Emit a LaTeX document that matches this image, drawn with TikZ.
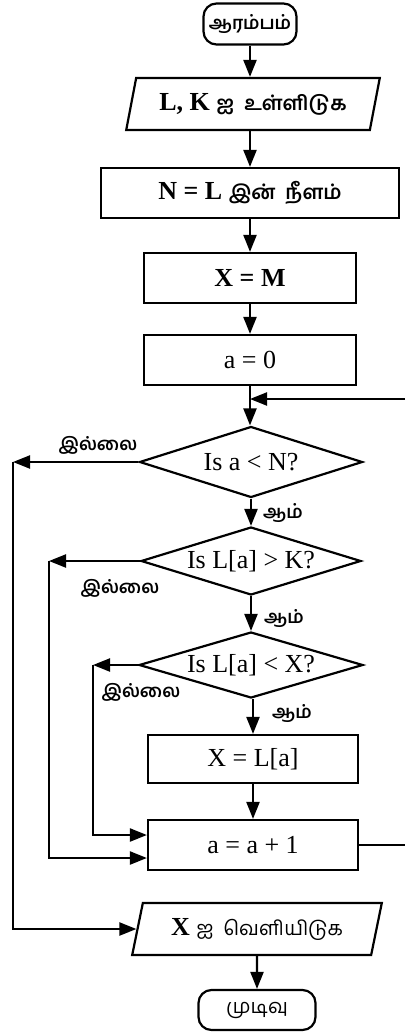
\documentclass[tikz,border=0pt]{standalone}
\usepackage{fontspec}
\setmainfont{Liberation Serif}
\newfontfamily\ta[Script=Tamil]{Hind Madurai}
\usetikzlibrary{shapes.geometric,arrows.meta,calc}

% Tamil text inside the boxes, a little smaller than the Latin text
\newcommand\tam[1]{{\ta\fontsize{20}{24}\selectfont #1}}

\tikzset{
  flow/.style={draw, line width=2.2pt, font=\fontsize{26}{30}\selectfont, inner sep=0pt},
  term/.style={flow, rectangle, rounded corners=13pt, minimum height=41pt},
  io/.style={flow, trapezium, trapezium left angle=70, trapezium right angle=110,
             trapezium stretches=true, minimum height=52pt},
  proc/.style={flow, rectangle, minimum height=50pt},
  dec/.style={flow, diamond, aspect=3.2},
  link/.style={line width=2.2pt, -{Triangle[length=17pt,width=13pt]}},
  plain/.style={line width=2.2pt},
  lbl/.style={font=\ta\bfseries\fontsize{18}{20}\selectfont, inner sep=0pt},
}

\begin{document}
\begin{tikzpicture}[x=1pt,y=-1pt]
\useasboundingbox (0,0) rectangle (405,1032);

% main column
\node[term, minimum width=93pt] (start) at (250,24) {{\ta\bfseries\fontsize{18}{22}\selectfont ஆரம்பம்}};
\node[io, minimum width=254pt] (in) at (253,104) {\textbf{L, K} \tam{\bfseries ஐ\ \ உள்ளிடுக}};
\node[proc, minimum width=298pt] (len) at (250,193) {\textbf{N = L} \tam{\bfseries இன்\ \ நீளம்}};
\node[proc, minimum width=212pt] (xm) at (250,278) {\textbf{X = M}};
\node[proc, minimum width=212pt] (a0) at (250,360) {a = 0};
\coordinate (join) at (250,399);
\coordinate (back) at (405,399);
\node[dec, minimum width=223pt, minimum height=71pt] (d1) at (251,462) {Is a < N?};
\node[dec, minimum width=220pt, minimum height=68pt] (d2) at (251,561) {Is L[a] > K?};
\node[dec, minimum width=224pt, minimum height=66pt] (d3) at (251,665) {Is L[a] < X?};
\node[proc, minimum width=210pt, minimum height=48pt] (xl) at (253,759) {X = L[a]};
\node[proc, minimum width=210pt] (inc) at (253,845) {a = a + 1};
\coordinate (exit) at (405,845);
\node[io, minimum width=250pt] (out) at (257,929) {\textbf{X} \tam{ஐ\ \ வெளியிடுக}};
\node[term, minimum width=117pt, minimum height=40pt] (end) at (257,1010) {\tam{முடிவு}};

% branch labels
\node[lbl] (no1) at (98,445) {இல்லை};
\node[lbl] (yes1) at (283,513) {ஆம்};
\node[lbl] (no2) at (120,588) {இல்லை};
\node[lbl] (yes2) at (284,618) {ஆம்};
\node[lbl] (no3) at (141,692) {இல்லை};
\node[lbl] (yes3) at (292,713) {ஆம்};

% corner points of the "no" branches
\coordinate (n1) at (13,462);
\coordinate (n2) at (49,561);
\coordinate (n3) at (93,665);
\coordinate (inc-hi) at ($(inc.west)+(0,-10)$);
\coordinate (inc-lo) at ($(inc.west)+(0,13)$);

% connectors
\draw[link] (start) -- (start |- in.north);
\draw[link] (in.south -| start) -- (len);
\draw[link] (len) -- (xm);
\draw[link] (xm) -- (a0);
\draw[link] (a0.south) -- (a0.south |- d1.north);
\draw[link] (back) -- (join);
\draw[link] (d1) -- (d2);
\draw[link] (d2) -- (d3);
\draw[link] (d3.south -| xl) -- (xl);
\draw[link] (xl) -- (inc);
\draw[plain] (inc) -- (exit);
\draw[link] (out) -- (end);

\draw[link] (d1) -- (n1);
\draw[link] (n1) |- (out);
\draw[link] (d2) -- (n2);
\draw[link] (n2) |- (inc-lo);
\draw[link] (d3) -- (n3);
\draw[link] (n3) |- (inc-hi);
\end{tikzpicture}
\end{document}
